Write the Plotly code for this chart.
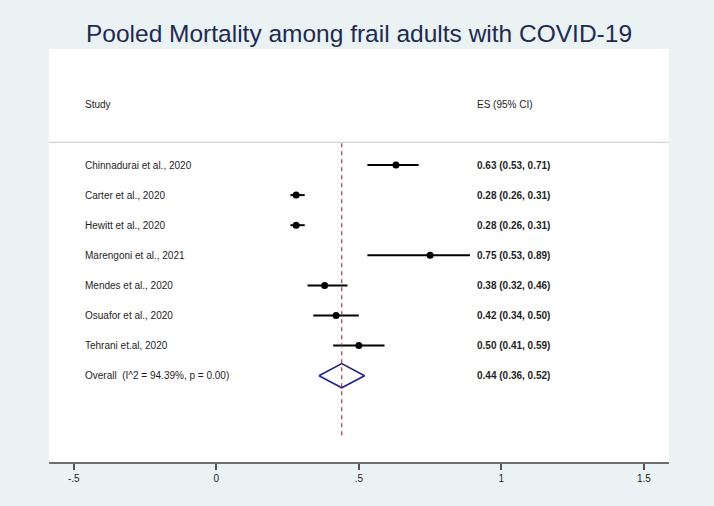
import plotly.graph_objects as go

# ---- data ----
studies = ["Chinnadurai et al., 2020", "Carter et al., 2020", "Hewitt et al., 2020",
           "Marengoni et al., 2021", "Mendes et al., 2020", "Osuafor et al., 2020",
           "Tehrani et.al, 2020"]
es = [0.63, 0.28, 0.28, 0.75, 0.38, 0.42, 0.50]
ci_low = [0.53, 0.26, 0.26, 0.53, 0.32, 0.34, 0.41]
ci_high = [0.71, 0.31, 0.31, 0.89, 0.46, 0.50, 0.59]

overall_label = "Overall  (I^2 = 94.39%, p = 0.00)"
overall_es = 0.44
overall_low = 0.36
overall_high = 0.52

tick_vals = [-0.5, 0, 0.5, 1, 1.5]
tick_text = ["-.5", "0", ".5", "1", "1.5"]

title_text = "Pooled Mortality among frail adults with COVID-19"
header_study = "Study"
header_es = "ES (95% CI)"

# ---- layout helpers ----
rows = list(range(1, len(studies) + 1))
overall_row = len(studies) + 1
header_row = -1
label_x = -0.469
es_x = 0.906
diamond_h = 0.4
FONT = "Arial, Liberation Sans, sans-serif"

fig = go.Figure()

# CI lines
cx, cy = [], []
for lo, hi, r in zip(ci_low, ci_high, rows):
    cx += [lo, hi, None]
    cy += [r, r, None]
fig.add_trace(go.Scatter(x=cx, y=cy, mode="lines",
                         line=dict(color="black", width=2),
                         hoverinfo="skip", showlegend=False))
# point estimates
fig.add_trace(go.Scatter(x=es, y=rows, mode="markers",
                         marker=dict(color="black", size=7),
                         showlegend=False))
# overall diamond
fig.add_trace(go.Scatter(
    x=[overall_low, overall_es, overall_high, overall_es, overall_low],
    y=[overall_row, overall_row - diamond_h, overall_row,
       overall_row + diamond_h, overall_row],
    mode="lines", line=dict(color="#22228a", width=1.6),
    hoverinfo="skip", showlegend=False))

# dashed overall line
fig.add_shape(type="line", xref="x", yref="y",
              x0=overall_es, x1=overall_es, y0=0.28, y1=10.0,
              line=dict(color="#b03040", width=1.2, dash="4px,4px"))
# header separator line
fig.add_shape(type="line", xref="paper", yref="y",
              x0=0, x1=1, y0=0.246, y1=0.246,
              line=dict(color="#c8c8c8", width=1))

ann = []
ann.append(dict(x=label_x, y=header_row, text=header_study))
ann.append(dict(x=es_x, y=header_row, text=header_es))
for s, e, lo, hi, r in zip(studies, es, ci_low, ci_high, rows):
    ann.append(dict(x=label_x, y=r, text=s))
    ann.append(dict(x=es_x, y=r, text=f"<b>{e:.2f} ({lo:.2f}, {hi:.2f})</b>"))
ann.append(dict(x=label_x, y=overall_row, text=overall_label))
ann.append(dict(x=es_x, y=overall_row,
                text=f"<b>{overall_es:.2f} ({overall_low:.2f}, {overall_high:.2f})</b>"))
for a in ann:
    a.update(xref="x", yref="y", xanchor="left", yanchor="middle",
             showarrow=False, font=dict(family=FONT, size=10, color="#1e1e1e"))

fig.update_layout(
    width=714, height=506,
    margin=dict(l=49, r=45, t=49, b=44),
    paper_bgcolor="#eaf2f3",
    plot_bgcolor="white",
    title=dict(text=title_text, x=0.5, xref="paper", xanchor="center",
               y=1 - 33 / 506, yref="container", yanchor="middle",
               font=dict(family=FONT, size=24.5, color="#1f2a50")),
    annotations=ann,
    showlegend=False,
    xaxis=dict(range=[-0.587, 1.588], tickvals=tick_vals, ticktext=tick_text,
               showgrid=False, zeroline=False, showline=True,
               linecolor="#6e6e6e", linewidth=2,
               ticks="outside", ticklen=6, tickwidth=1.5, tickcolor="#555555",
               tickfont=dict(family=FONT, size=10, color="#1e1e1e"),
               automargin=False, fixedrange=True),
    yaxis=dict(range=[10.867, -2.854], visible=False, showgrid=False,
               zeroline=False, automargin=False, fixedrange=True),
)

fig.write_html("out.html", config={"displayModeBar": False},
               post_script="document.body.style.margin='0';document.body.style.overflow='hidden';")
